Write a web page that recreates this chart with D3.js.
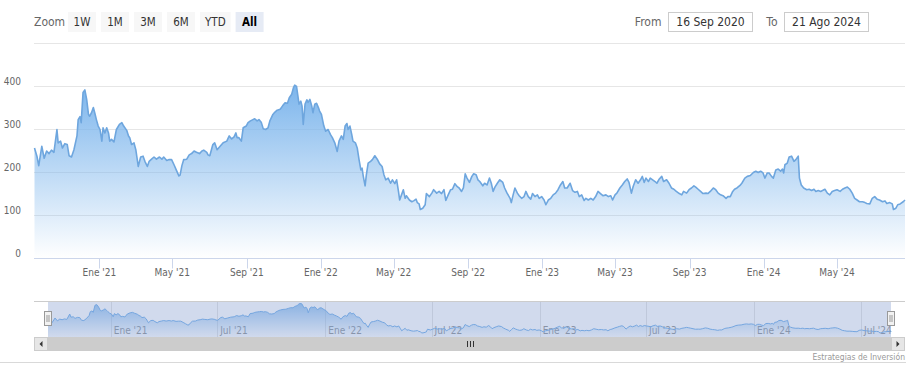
<!DOCTYPE html>
<html><head><meta charset="utf-8">
<script src="https://cdn.jsdelivr.net/npm/d3@7"></script>
<style>
html,body{margin:0;padding:0;background:#fff;}
svg{display:block;font-family:"DejaVu Sans Condensed","DejaVu Sans",sans-serif;font-stretch:condensed;}
</style></head><body><svg id="chart" width="916" height="379"></svg>
<script>
// ---------------- data ----------------
const startDate = "2020-09-16";
// calendar days since startDate
const days = [0,4,7,12,16,20,24,28,32,37,39,43,46,50,54,57,61,65,70,72,75,77,80,83,86,89,91,94,97,100,102,105,108,111,113,116,119,122,124,127,131,135,140,144,147,152,155,157,160,164,167,169,171,175,179,182,186,189,193,197,201,206,210,213,218,222,226,230,234,238,240,243,246,251,255,259,263,267,272,276,279,284,286,289,294,297,301,306,311,317,321,325,329,332,334,337,341,344,349,352,356,360,363,367,370,374,377,381,385,388,393,396,400,405,409,413,417,420,424,427,429,432,435,436,439,441,443,446,449,451,454,457,459,462,465,468,470,473,477,480,484,488,491,495,499,502,506,509,512,515,517,520,523,525,529,532,535,538,540,542,545,547,550,554,557,561,565,569,573,576,579,583,587,590,594,597,600,602,605,608,611,613,618,622,625,629,631,634,636,640,644,646,651,655,658,663,667,671,675,678,682,686,689,693,697,700,704,707,710,713,717,721,724,728,731,734,739,742,746,750,753,756,759,763,767,772,775,779,784,786,789,792,796,799,803,807,810,814,818,821,825,829,832,836,840,843,847,851,855,859,863,867,871,874,878,883,887,891,895,898,902,906,909,913,917,921,925,929,933,937,942,946,950,953,957,960,965,969,973,977,980,984,987,991,995,999,1002,1005,1008,1012,1015,1019,1023,1026,1030,1034,1037,1042,1046,1050,1054,1058,1063,1067,1070,1075,1079,1083,1087,1090,1094,1098,1102,1107,1110,1114,1119,1123,1127,1131,1135,1140,1143,1147,1151,1154,1158,1163,1166,1171,1175,1180,1185,1189,1193,1197,1201,1204,1208,1211,1215,1218,1222,1226,1230,1233,1235,1237,1241,1244,1248,1252,1255,1257,1259,1261,1264,1268,1273,1277,1281,1285,1288,1292,1296,1299,1303,1307,1311,1315,1319,1323,1328,1332,1336,1340,1344,1348,1352,1356,1360,1365,1369,1372,1377,1381,1385,1389,1393,1398,1402,1405,1410,1414,1416,1420,1423,1427,1432,1435];
const prices = [257,238,216,261,233,250,244,252,247,300,269,273,257,267,265,239,236,253,285,323,330,316,386,392,370,335,331,339,351,335,323,308,300,273,304,292,304,292,273,277,271,300,312,316,308,298,285,281,265,269,253,234,214,236,238,226,214,226,231,236,231,236,231,236,228,230,230,218,205,192,194,216,230,231,241,244,250,247,244,250,252,247,241,239,265,269,253,261,269,273,285,278,283,292,281,281,273,304,308,316,320,323,325,320,323,316,302,300,304,320,335,340,345,347,355,362,361,374,382,398,403,400,370,359,366,355,312,359,369,363,370,355,339,359,361,351,343,335,308,296,300,288,281,269,249,273,285,277,308,314,300,308,288,273,269,257,230,206,210,191,169,194,222,226,230,239,231,220,214,195,183,187,175,183,174,183,156,136,148,160,140,146,136,132,134,138,130,127,114,117,125,151,144,152,160,152,156,151,160,135,148,160,161,174,167,164,156,164,197,187,177,191,197,195,183,179,169,175,171,187,175,156,166,175,183,177,164,152,140,130,148,164,152,146,140,144,156,144,138,151,144,148,140,144,136,125,136,140,148,152,160,171,179,164,164,175,158,154,156,144,148,135,140,136,140,136,144,156,151,146,148,144,146,136,148,152,164,171,179,185,177,152,168,183,175,183,191,177,187,179,187,183,179,175,185,191,179,183,175,164,161,156,151,148,156,152,160,164,169,166,161,156,151,152,151,156,164,160,152,148,146,140,144,144,156,161,164,170,175,187,191,193,200,203,200,203,199,187,199,199,191,187,206,208,203,208,199,218,222,236,238,226,230,234,238,187,171,164,160,161,158,161,156,158,156,158,161,152,148,156,158,160,156,161,164,166,161,152,140,136,132,132,130,128,127,140,144,138,136,132,134,128,130,127,114,117,125,127,132,136];
const yTicks = [0,100,200,300,400,500];
const yLabelled = [0,100,200,300,400];
const monthNames = ["Ene","Feb","Mar","Abr","May","Jun","Jul","Ago","Sep","Oct","Nov","Dic"];
const zoomButtons = ["1W","1M","3M","6M","YTD","All"];
const selectedButton = "All";
const zoomLabel = "Zoom", fromLabel = "From", toLabel = "To";
const creditText = "Estrategias de Inversión";

// ---------------- setup ----------------
const svg = d3.select("#chart");
const W = 916, H = 379;
svg.append("rect").attr("width",W).attr("height",H).attr("fill","#fff");

const start = d3.utcParse("%Y-%m-%d")(startDate);
const data = days.map((d,i)=>({date:d3.utcDay.offset(start,d), v:prices[i]}));
const first = data[0].date, last = data[data.length-1].date;
const fmtTick = d => monthNames[d.getUTCMonth()] + " '" + String(d.getUTCFullYear()).slice(2);
const fmtInput = d => d.getUTCDate() + " " + monthNames[d.getUTCMonth()] + " " + d.getUTCFullYear();

const plotL = 34.5, plotR = 905, plotTop = 43.5, plotBottom = 258.5;
const x = d3.scaleUtc().domain([first,last]).range([plotL, plotR]);
const y = d3.scaleLinear().domain([0,500]).range([plotBottom, plotTop]);

const defs = svg.append("defs");
function grad(id){
  const g = defs.append("linearGradient").attr("id",id).attr("x1",0).attr("y1",0).attr("x2",0).attr("y2",1);
  g.append("stop").attr("offset",0).attr("stop-color","#7cb5ec").attr("stop-opacity",1);
  g.append("stop").attr("offset",1).attr("stop-color","#7cb5ec").attr("stop-opacity",0);
}
grad("gMain"); grad("gNav");

// ---------------- toolbar ----------------
const tb = svg.append("g");
tb.append("text").attr("x",34).attr("y",26).attr("font-size",12).attr("fill","#666").text(zoomLabel);
let bx = 68;
zoomButtons.forEach(b=>{
  const sel = b===selectedButton;
  const g = tb.append("g");
  const r = g.append("rect").attr("y",12).attr("height",20).attr("fill", sel?"#e6ebf5":"#f7f7f7");
  const t = g.append("text").attr("y",26).attr("font-size",11.5).attr("text-anchor","middle")
    .attr("fill", sel?"#000":"#333").attr("font-weight", sel?"bold":"normal").text(b);
  const w = Math.max(28, t.node().getComputedTextLength()+10);
  r.attr("x",bx).attr("width",w);
  t.attr("x",bx+w/2);
  bx += w+5;
});
tb.append("text").attr("x",661.5).attr("y",26).attr("font-size",12).attr("text-anchor","end").attr("fill","#666").text(fromLabel);
tb.append("rect").attr("x",668.5).attr("y",12.5).attr("width",84).attr("height",19).attr("fill","#fff").attr("stroke","#ccc");
tb.append("text").attr("x",710.5).attr("y",26).attr("font-size",12).attr("text-anchor","middle").attr("fill","#333").text(fmtInput(first));
tb.append("text").attr("x",777.5).attr("y",26).attr("font-size",12).attr("text-anchor","end").attr("fill","#666").text(toLabel);
tb.append("rect").attr("x",784.5).attr("y",12.5).attr("width",84).attr("height",19).attr("fill","#fff").attr("stroke","#ccc");
tb.append("text").attr("x",826.5).attr("y",26).attr("font-size",12).attr("text-anchor","middle").attr("fill","#333").text(fmtInput(last));

// ---------------- main plot ----------------
const grid = svg.append("g");
yTicks.forEach(t=>{
  grid.append("line").attr("x1",34).attr("x2",905).attr("y1",y(t)).attr("y2",y(t))
    .attr("stroke","#e6e6e6").attr("stroke-width",1);
});
yLabelled.forEach(t=>{
  grid.append("text").attr("x",21).attr("y",y(t)-2).attr("text-anchor","end")
    .attr("font-size",10).attr("fill","#666").text(t);
});

const area = d3.area().x(d=>x(d.date)).y0(y(0)).y1(d=>y(d.v));
const line = d3.line().x(d=>x(d.date)).y(d=>y(d.v));
svg.append("path").datum(data).attr("d",area).attr("fill","url(#gMain)");
svg.append("path").datum(data).attr("d",line).attr("fill","none").attr("stroke","#6ea6de")
  .attr("stroke-width",1.6).attr("stroke-linejoin","round");

// x axis
const xa = svg.append("g");
xa.append("line").attr("x1",34).attr("x2",905).attr("y1",plotBottom).attr("y2",plotBottom).attr("stroke","#ccd6eb");
const xt = x.ticks(d3.utcMonth.every(4));
xt.forEach(d=>{
  const px = Math.round(x(d))+0.5;
  xa.append("line").attr("x1",px).attr("x2",px).attr("y1",plotBottom).attr("y2",plotBottom+10).attr("stroke","#ccd6eb");
  xa.append("text").attr("x",x(d)).attr("y",276).attr("text-anchor","middle").attr("font-size",10).attr("fill","#666").text(fmtTick(d));
});

// ---------------- navigator ----------------
const navTop = 301.5, navBottom = 337;
const nx = d3.scaleUtc().domain([first,last]).range([48, 891]);
const ny = d3.scaleLinear().domain(d3.extent(prices)).range([333, 303.5]);
const nav = svg.append("g");
const nt = nx.ticks(d3.utcMonth.every(6));
nt.forEach(d=>{
  const px = Math.round(nx(d))+0.5;
  nav.append("line").attr("x1",px).attr("x2",px).attr("y1",navTop).attr("y2",navBottom).attr("stroke","#e6e6e6");
  nav.append("text").attr("x",nx(d)+3).attr("y",334).attr("font-size",10).attr("fill","#999").text(fmtTick(d));
});
const narea = d3.area().x(d=>nx(d.date)).y0(navBottom).y1(d=>ny(d.v));
const nline = d3.line().x(d=>nx(d.date)).y(d=>ny(d.v));
nav.append("path").datum(data).attr("d",narea).attr("fill","url(#gNav)").attr("fill-opacity",0.75);
nav.append("path").datum(data).attr("d",nline).attr("fill","none").attr("stroke","#7cb5ec").attr("stroke-width",1);
nav.append("rect").attr("x",nx(first)).attr("y",navTop+0.5).attr("width",nx(last)-nx(first)).attr("height",navBottom-navTop-0.5)
  .attr("fill","rgba(102,133,194,0.3)");
nav.append("line").attr("x1",34).attr("x2",905).attr("y1",navTop).attr("y2",navTop).attr("stroke","#cccccc");

// scrollbar
const sb = svg.append("g");
const sbY = 337, sbH = 14;
sb.append("rect").attr("x",34).attr("y",sbY).attr("width",871).attr("height",sbH).attr("fill","#f2f2f2");
sb.append("rect").attr("x",nx(first)).attr("y",sbY).attr("width",nx(last)-nx(first)).attr("height",sbH).attr("fill","#cccccc");
const cx = (nx(first)+nx(last))/2;
[-3,0,3].forEach(o=>{
  sb.append("line").attr("x1",Math.round(cx+o)+0.5).attr("x2",Math.round(cx+o)+0.5).attr("y1",sbY+4).attr("y2",sbY+10).attr("stroke","#333");
});
[[34,-1],[891,1]].forEach(([bxx,dir])=>{
  sb.append("rect").attr("x",bxx+0.5).attr("y",sbY+0.5).attr("width",13).attr("height",sbH-1).attr("fill","#e6e6e6").attr("stroke","#cccccc");
  const c = bxx+7, m = sbY+7;
  sb.append("path").attr("d", dir<0 ? `M${c+1.5},${m-3}L${c-1.5},${m}L${c+1.5},${m+3}Z` : `M${c-1.5},${m-3}L${c+1.5},${m}L${c-1.5},${m+3}Z`).attr("fill","#333");
});

// handles
[nx(first), nx(last)].forEach(hx=>{
  const g = svg.append("g");
  const x0 = Math.round(hx)-3.5;
  g.append("rect").attr("x",x0).attr("y",311.5).attr("width",7).attr("height",14).attr("fill","#f2f2f2").attr("stroke","#999");
  g.append("line").attr("x1",x0+2.5).attr("x2",x0+2.5).attr("y1",315).attr("y2",322).attr("stroke","#999");
  g.append("line").attr("x1",x0+4.5).attr("x2",x0+4.5).attr("y1",315).attr("y2",322).attr("stroke","#999");
});

// credits + bottom line
svg.append("text").attr("x",905).attr("y",359.5).attr("text-anchor","end").attr("font-size",8.5).attr("fill","#999").text(creditText);
svg.append("line").attr("x1",0).attr("x2",906).attr("y1",362.5).attr("y2",362.5).attr("stroke","#d9d9d9");
</script></body></html>
